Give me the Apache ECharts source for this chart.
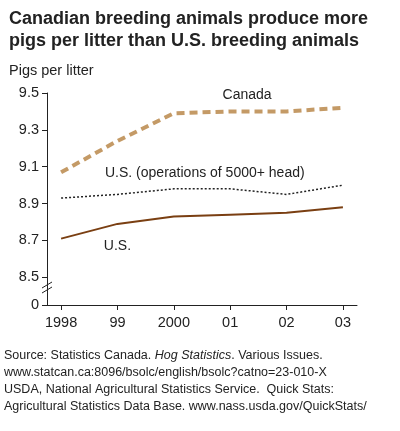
<!DOCTYPE html>
<html><head><meta charset="utf-8">
<script src="https://cdn.jsdelivr.net/npm/echarts@6/dist/echarts.min.js"></script>
<style>body{margin:0;background:#fff}#c{width:400px;height:431px}</style>
</head><body><div id="c"></div>
<script>
const years=[1998,1999,2000,2001,2002,2003];
const yearLabels=['1998','99','2000','01','02','03'];
const canada=[9.07,9.24,9.39,9.40,9.40,9.42];
const us5000=[8.93,8.95,8.98,8.98,8.95,9.00];
const us=[8.71,8.79,8.83,8.84,8.85,8.88];
const yTicks=[8.35,8.5,8.7,8.9,9.1,9.3,9.5];
const yTickLabels=['0','8.5','8.7','8.9','9.1','9.3','9.5'];
const F='Liberation Sans, Arial, sans-serif';
const pair=a=>years.map((y,i)=>[y,a[i]]);
const lbl=(x,y,t)=>({coord:[x,y],symbol:'circle',symbolSize:1,itemStyle:{color:'rgba(0,0,0,0)'},
  label:{show:true,position:'inside',formatter:t,fontSize:14,color:'#222',fontFamily:F}});
const ch=echarts.init(document.getElementById('c'));
ch.setOption({
 animation:false,
 textStyle:{fontFamily:F},
 title:[{text:'Canadian breeding animals produce more\npigs per litter than U.S. breeding animals',left:4,top:3,textStyle:{fontFamily:F,fontSize:18,fontWeight:'bold',color:'#222',lineHeight:22}},
  {text:'Pigs per litter',left:4,top:58,textStyle:{fontFamily:F,fontSize:14.5,fontWeight:'normal',color:'#222'}}],
 grid:{left:47,right:43,top:93,bottom:126},
 xAxis:{type:'value',min:1997.75,max:2003.25,
  axisLine:{lineStyle:{color:'#222'}},splitLine:{show:false},
  axisTick:{customValues:years,length:5,lineStyle:{color:'#222'}},
  axisLabel:{customValues:years,formatter:v=>yearLabels[years.indexOf(Math.round(v))],fontSize:14.5,color:'#222',margin:10}},
 yAxis:{type:'value',min:8.35,max:9.5,
  axisLine:{show:true,lineStyle:{color:'#222'}},splitLine:{show:false},
  axisTick:{show:true,customValues:yTicks,length:5,lineStyle:{color:'#222'}},
  axisLabel:{customValues:yTicks,formatter:v=>yTickLabels[yTicks.findIndex(t=>Math.abs(t-v)<1e-6)],fontSize:14.5,color:'#222'}},
 graphic:[
  {type:'rect',shape:{x:42,y:283,width:10,height:8},style:{fill:'#fff'}},
  {type:'line',shape:{x1:42,y1:288,x2:52,y2:282},style:{stroke:'#222',lineWidth:1}},
  {type:'line',shape:{x1:42,y1:293,x2:52,y2:287},style:{stroke:'#222',lineWidth:1}},
  {type:'text',left:4,top:347,style:{
    text:'{n|Source: Statistics Canada. }{i|Hog Statistics}{n|. Various Issues.}\n{n|www.statcan.ca:8096/bsolc/english/bsolc?catno=23-010-X}\n{n|USDA, National Agricultural Statistics Service.  Quick Stats:}\n{n|Agricultural Statistics Data Base. www.nass.usda.gov/QuickStats/}',
    rich:{n:{fontFamily:F,fontSize:12.5,fill:'#222',lineHeight:17},i:{fontFamily:F,fontSize:12.5,fontStyle:'italic',fill:'#222',lineHeight:17}},
    fontFamily:F,fontSize:12.5,lineHeight:17,fill:'#222'}}
 ],
 series:[
  {type:'line',data:pair(canada),symbol:'none',lineStyle:{color:'#c49a66',width:4,type:[8,5]},
   markPoint:{data:[lbl(2001.3,9.49,'Canada')]}},
  {type:'line',data:pair(us5000),symbol:'none',lineStyle:{color:'#222',width:1.5,type:[2,2]},
   markPoint:{data:[lbl(2000.55,9.065,'U.S. (operations of 5000+ head)')]}},
  {type:'line',data:pair(us),symbol:'none',lineStyle:{color:'#7a3f12',width:2},
   markPoint:{data:[lbl(1999.0,8.67,'U.S.')]}}
 ]
});
</script></body></html>
